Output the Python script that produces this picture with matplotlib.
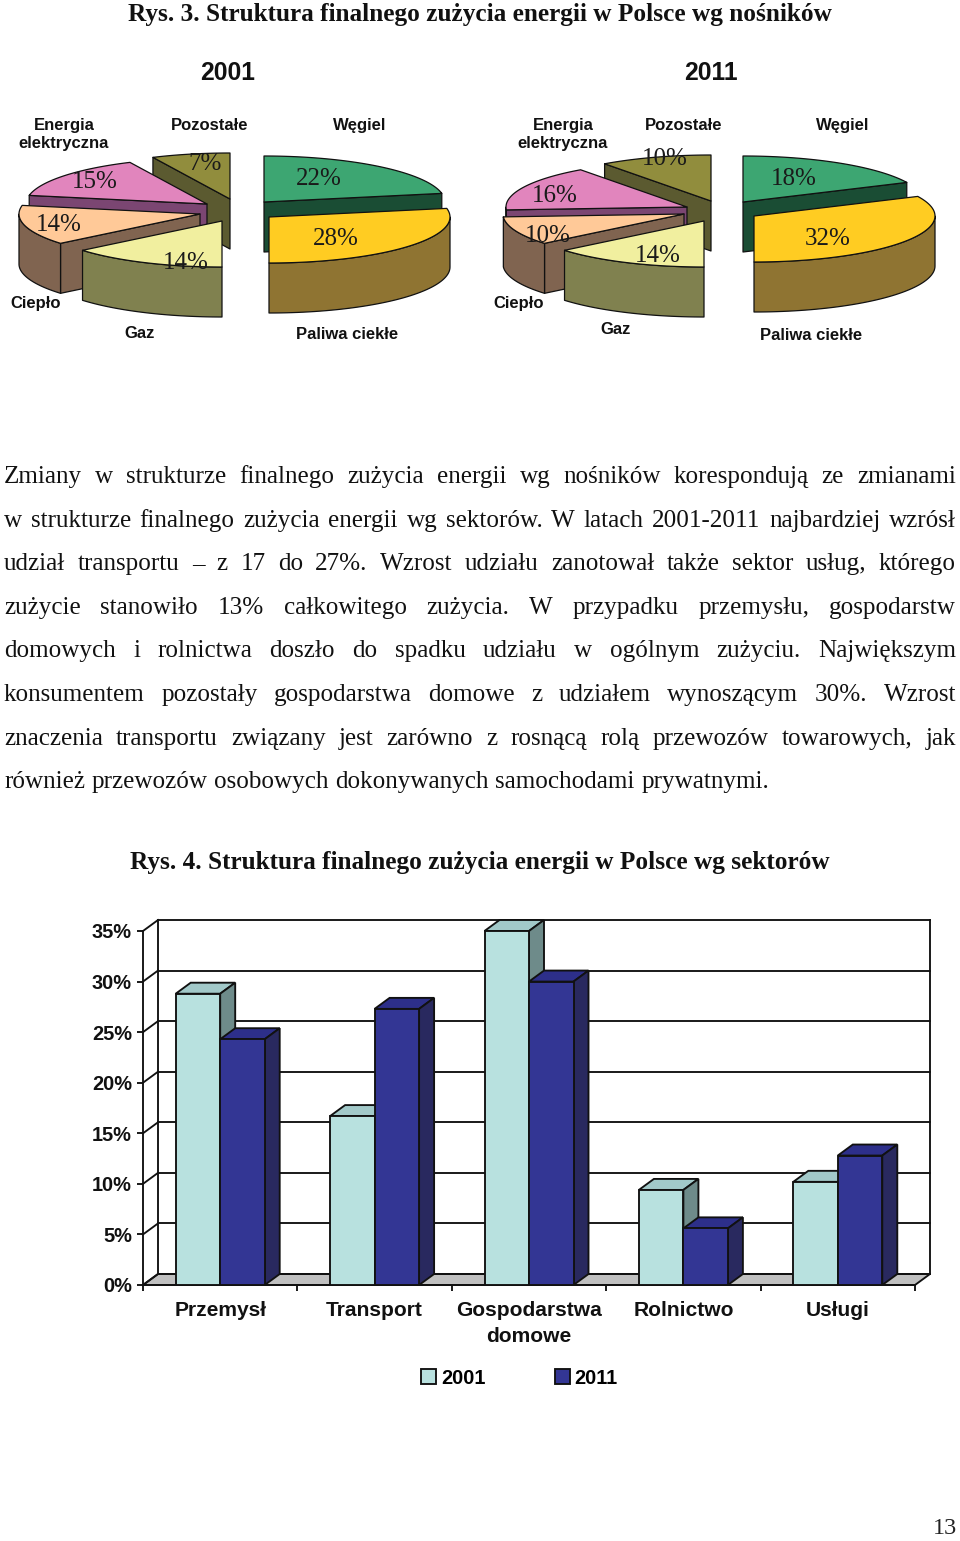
import numpy as np
import matplotlib
matplotlib.use('Agg')
import matplotlib.pyplot as plt
from matplotlib.patches import Polygon

SERIF = 'Liberation Serif'
SANS = 'Liberation Sans'

# pies (Rys. 3)
carriers = ['Węgiel', 'Paliwa ciekłe', 'Gaz', 'Ciepło', 'Energia\nelektryczna', 'Pozostałe']
share_2001 = [22, 28, 14, 14, 15, 7]
share_2011 = [18, 32, 14, 10, 16, 10]
top_colors = ['#3DA672', '#FFCC22', '#F1EF9F', '#FFC998', '#E185BD', '#918D3D']
side_colors = ['#1A4D34', '#8F7432', '#80814F', '#806450', '#7B4672', '#5B5A30']

# bars (Rys. 4)
sectors = ['Przemysł', 'Transport', 'Gospodarstwa\ndomowe', 'Rolnictwo', 'Usługi']
sector_2001 = [28.8, 16.7, 35.0, 9.4, 10.2]
sector_2011 = [24.3, 27.3, 30.0, 5.6, 12.8]

body_lines = [
    'Zmiany w strukturze finalnego zużycia energii wg nośników korespondują ze zmianami',
    'w strukturze finalnego zużycia energii wg sektorów. W latach 2001-2011 najbardziej wzrósł',
    'udział transportu – z 17 do 27%. Wzrost udziału zanotował także sektor usług, którego',
    'zużycie stanowiło 13% całkowitego zużycia. W przypadku przemysłu, gospodarstw',
    'domowych i rolnictwa doszło do spadku udziału w ogólnym zużyciu. Największym',
    'konsumentem pozostały gospodarstwa domowe z udziałem wynoszącym 30%. Wzrost',
    'znaczenia transportu związany jest zarówno z rosnącą rolą przewozów towarowych, jak',
    'również przewozów osobowych dokonywanych samochodami prywatnymi.',
]

fig = plt.figure(figsize=(9.6, 15.41), dpi=100)
page = fig.add_axes([0, 0, 1, 1])
page.set_xlim(0, 960)
page.set_ylim(1541, 0)
page.axis('off')


def draw_pie(ax, values, cx, cy, shifts, rx=181, ry=46, depth=50):
    edges = np.cumsum([0] + values) * 3.6
    for i in [0, 5, 4, 3, 1, 2]:  # back to front
        a0, a1 = edges[i], edges[i + 1]
        x0 = cx + shifts[i][0]
        y0 = cy + shifts[i][1]
        def pt(a):
            r = np.radians(a)
            return x0 + rx * np.sin(r), y0 - ry * np.cos(r)
        style = dict(edgecolor='#111111', linewidth=0.9, joinstyle='round')
        # cut faces that look towards the viewer
        for a, front in ((a0, np.sin(np.radians(a0)) < -0.01), (a1, np.sin(np.radians(a1)) > 0.01)):
            if front:
                x1, y1 = pt(a)
                ax.add_patch(Polygon([(x0, y0), (x1, y1), (x1, y1 + depth), (x0, y0 + depth)],
                                     facecolor=side_colors[i], **style))
        # outer wall
        lo, hi = max(a0, 90), min(a1, 270)
        if hi > lo:
            arc = [pt(a) for a in np.linspace(lo, hi, 50)]
            wall = arc + [(x, y + depth) for x, y in arc[::-1]]
            ax.add_patch(Polygon(wall, facecolor=side_colors[i], **style))
        # top
        top = [(x0, y0)] + [pt(a) for a in np.linspace(a0, a1, 60)]
        ax.add_patch(Polygon(top, facecolor=top_colors[i], **style))


shifts_2001 = [(29, -5), (34, 10), (-13, 14), (-35, 7), (-28, -3), (-5, -8)]
shifts_2011 = [(28, -5), (39, 9), (-11, 14), (-31, 7), (-28, 0), (-4, -6)]
draw_pie(page, share_2001, 235, 207, shifts_2001)
draw_pie(page, share_2011, 715, 207, shifts_2011)

pct_pos_2001 = [(319, 179), (336, 239), (186, 263), (59, 225), (95, 182), (205, 164)]
pct_pos_2011 = [(794, 179), (828, 239), (658, 256), (548, 236), (555, 196), (665, 159)]
name_pos_2001 = [(360, 125), (347, 334), (140, 333), (36, 303), (64, 134), (210, 125)]
name_pos_2011 = [(843, 125), (811, 335), (616, 329), (519, 303), (563, 134), (684, 125)]

for vals, pct_pos, name_pos in ((share_2001, pct_pos_2001, name_pos_2001),
                                (share_2011, pct_pos_2011, name_pos_2011)):
    for v, p, name, n in zip(vals, pct_pos, carriers, name_pos):
        page.text(p[0], p[1], f'{v}%', family=SERIF, fontsize=18, color='#1a1a1a',
                  ha='center', va='center', zorder=10)
        page.text(n[0], n[1], name, family=SANS, fontweight='bold', fontsize=12.0, color='#111111',
                  ha='center', va='center', linespacing=1.25, zorder=10)

page.text(228, 73, '2001', family=SANS, fontweight='bold', fontsize=17.8, ha='center', va='center', color='#111111')
page.text(711, 73, '2011', family=SANS, fontweight='bold', fontsize=17.8, ha='center', va='center', color='#111111')
page.text(480, 14, 'Rys. 3. Struktura finalnego zużycia energii w Polsce wg nośników', family=SERIF,
          fontweight='bold', fontsize=18.15, ha='center', va='center', color='#111111')
page.text(480, 862, 'Rys. 4. Struktura finalnego zużycia energii w Polsce wg sektorów', family=SERIF,
          fontweight='bold', fontsize=18.15, ha='center', va='center', color='#111111')
page.text(957, 1529, '13', family=SERIF, fontsize=17.5, ha='right', va='center', color='#222222')

# justified paragraph, word by word
renderer = fig.canvas.get_renderer()
for n, line in enumerate(body_lines):
    words = [page.text(0, 483 + n * 43.6, w, family=SERIF, fontsize=18.1, color='#111111', va='baseline')
             for w in line.split(' ')]
    widths = [t.get_window_extent(renderer).width for t in words]
    if n < len(body_lines) - 1:
        gap = (952 - sum(widths)) / (len(words) - 1)
    else:
        gap = 6.6
    x = 4
    for t, w in zip(words, widths):
        t.set_x(x)
        x += w + gap

# bar chart
ax = fig.add_axes([143 / 960, 1 - 1285 / 1541, 772 / 960, 354 / 1541])
ax.set_xlim(0, 5)
ax.set_ylim(0, 35)
ax.patch.set_alpha(0)
for s in ax.spines.values():
    s.set_visible(False)

dx = 15 / 772 * 5
dy = 11 / 354 * 35
bw = 44.5 / 772 * 5
LW = 1.35
DARK = '#111111'

ax.add_patch(Polygon([(0, 0), (5, 0), (5 + dx, dy), (dx, dy)], facecolor='#C0C0C0',
                     edgecolor=DARK, linewidth=LW, clip_on=False, zorder=1))
for level in range(0, 36, 5):
    ax.plot([dx, 5 + dx], [level + dy, level + dy], color=DARK, lw=LW, clip_on=False, zorder=1)
    ax.plot([0, dx], [level, level + dy], color=DARK, lw=LW, clip_on=False, zorder=1)
ax.plot([dx, dx], [dy, 35 + dy], color=DARK, lw=LW, clip_on=False, zorder=1)
ax.plot([5 + dx, 5 + dx], [dy, 35 + dy], color=DARK, lw=LW, clip_on=False, zorder=1)
ax.plot([0, 0], [0, 35], color=DARK, lw=LW, clip_on=False, zorder=2)
ax.plot([0, 5], [0, 0], color=DARK, lw=LW, clip_on=False, zorder=2)

centres = np.arange(len(sectors)) + 0.5
series = [(sector_2001, centres - bw / 2, '#B8E1DF', '#A2C9C9', '#6E8B8A', 4, '2001'),
          (sector_2011, centres + bw / 2, '#333694', '#2D2F8A', '#29295F', 6, '2011')]
handles = []
for vals, xs, front, top, side, z, label in series:
    bars = ax.bar(xs, vals, bw, color=front, edgecolor=DARK, linewidth=LW, zorder=z, clip_on=False, label=label)
    handles.append(bars)
    for x, v in zip(xs, vals):
        l, r = x - bw / 2, x + bw / 2
        ax.add_patch(Polygon([(l, v), (r, v), (r + dx, v + dy), (l + dx, v + dy)], facecolor=top,
                             edgecolor=DARK, linewidth=LW, clip_on=False, zorder=z - 1))
        ax.add_patch(Polygon([(r, 0), (r + dx, dy), (r + dx, v + dy), (r, v)], facecolor=side,
                             edgecolor=DARK, linewidth=LW, clip_on=False, zorder=z - 1))

ax.set_yticks(range(0, 36, 5))
ax.set_yticklabels([f'{v}%' for v in range(0, 36, 5)], family=SANS, fontweight='bold', fontsize=14.4, color='#111111')
ax.set_xticks(range(6))
ax.set_xticklabels([])
ax.set_xticks(centres, minor=True)
ax.set_xticklabels(sectors, minor=True, family=SANS, fontweight='bold', fontsize=15.1, color='#111111', linespacing=1.5)
ax.tick_params(axis='y', length=4, width=LW, pad=4, color=DARK)
ax.tick_params(axis='x', which='major', length=4.5, width=LW, direction='out', color=DARK)
ax.tick_params(axis='x', which='minor', length=0, pad=11.5)

leg = ax.legend(handles=handles, loc='center', bbox_to_anchor=(519.5 / 960, 1 - 1378 / 1541),
                bbox_transform=fig.transFigure, ncols=2, frameon=False, handlelength=0.72, handleheight=0.72,
                handletextpad=0.25, columnspacing=3.5,
                prop={'family': SANS, 'weight': 'bold', 'size': 14.4})

fig.savefig('out.png', dpi=100, facecolor='white')
